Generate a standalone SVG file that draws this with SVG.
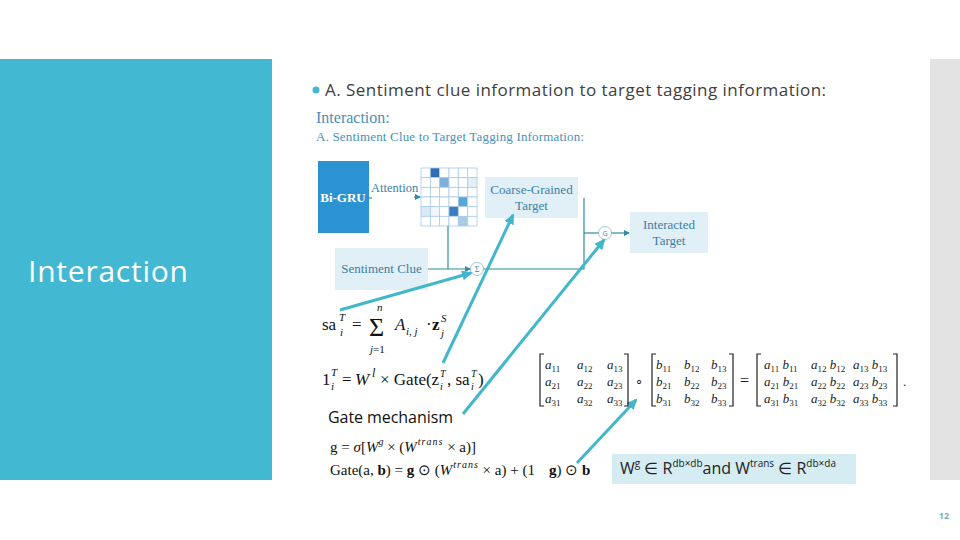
<svg xmlns="http://www.w3.org/2000/svg" width="960" height="540" viewBox="0 0 960 540">
<style>
.sans{font-family:"Open Sans","Liberation Sans",sans-serif}
.serif{font-family:"Liberation Serif","DejaVu Serif",serif}
.lbl{font-family:"Liberation Serif",serif;font-size:13px;fill:#3d7ea6;text-anchor:middle}
.box{fill:#e1eff7}
.wire{stroke:#2f8ca6;stroke-width:1.2;fill:none}
.hint{stroke:#42b6ca;stroke-width:3;fill:none}
.op{fill:#fff;stroke:#8fb9cc;stroke-width:0.8}
.m{font-family:"Liberation Serif",serif;font-size:13px;fill:#222}
.f{font-family:"Liberation Serif",serif;fill:#111}
.it{font-style:italic}
.cell{fill:#fff;stroke:#a9cbe6;stroke-width:0.8}
</style>
<defs>
<marker id="ah" markerWidth="6" markerHeight="6" refX="5" refY="3" orient="auto" markerUnits="userSpaceOnUse"><path d="M0,0 L6,3 L0,6 z" fill="#2f8ca6"/></marker>
<marker id="bh" markerWidth="12" markerHeight="12" refX="9" refY="5" orient="auto" markerUnits="userSpaceOnUse"><path d="M0,0 L11,5 L0,10 z" fill="#42b6ca"/></marker>
</defs>
<rect width="960" height="540" fill="#fff"/>
<rect x="0" y="59" width="272" height="421" fill="#42b8d2"/>
<rect x="930" y="59" width="30" height="421" fill="#e3e3e3"/>
<text x="28" y="282" class="sans" font-size="30" fill="#fff" textLength="160">Interaction</text>
<circle cx="316" cy="90" r="3.5" fill="#42b8d2"/>
<text x="325" y="96" class="sans" font-size="17" fill="#404040" textLength="501">A. Sentiment clue information to target tagging information:</text>
<text x="316" y="123" class="serif" font-size="16" fill="#4a8fb9">Interaction:</text>
<text x="316" y="141" class="serif" font-size="13" fill="#4a8fb9" textLength="268">A. Sentiment Clue to Target Tagging Information:</text>

<g id="bigru">
<rect x="318" y="161" width="51" height="72" fill="#2b93d1"/>
<text x="343" y="202" class="serif" font-size="13" font-weight="bold" fill="#fff" text-anchor="middle">Bi-GRU</text>
</g>
<g id="attention">
<text x="371" y="192" class="serif" font-size="12.5" fill="#3d7ea6">Attention</text>
<g>
<rect class="cell" x="421" y="168" width="9.33" height="9.67"/><rect class="cell" x="430.33" y="168" width="9.33" height="9.67" style="fill:#2e6db5"/><rect class="cell" x="439.67" y="168" width="9.33" height="9.67"/><rect class="cell" x="449" y="168" width="9.33" height="9.67"/><rect class="cell" x="458.33" y="168" width="9.33" height="9.67"/><rect class="cell" x="467.67" y="168" width="9.33" height="9.67"/>
<rect class="cell" x="421" y="177.67" width="9.33" height="9.67"/><rect class="cell" x="430.33" y="177.67" width="9.33" height="9.67"/><rect class="cell" x="439.67" y="177.67" width="9.33" height="9.67" style="fill:#7fb0dc"/><rect class="cell" x="449" y="177.67" width="9.33" height="9.67"/><rect class="cell" x="458.33" y="177.67" width="9.33" height="9.67"/><rect class="cell" x="467.67" y="177.67" width="9.33" height="9.67" style="fill:#e2eff8"/>
<rect class="cell" x="421" y="187.33" width="9.33" height="9.67"/><rect class="cell" x="430.33" y="187.33" width="9.33" height="9.67"/><rect class="cell" x="439.67" y="187.33" width="9.33" height="9.67"/><rect class="cell" x="449" y="187.33" width="9.33" height="9.67"/><rect class="cell" x="458.33" y="187.33" width="9.33" height="9.67"/><rect class="cell" x="467.67" y="187.33" width="9.33" height="9.67"/>
<rect class="cell" x="421" y="197" width="9.33" height="9.67"/><rect class="cell" x="430.33" y="197" width="9.33" height="9.67"/><rect class="cell" x="439.67" y="197" width="9.33" height="9.67"/><rect class="cell" x="449" y="197" width="9.33" height="9.67"/><rect class="cell" x="458.33" y="197" width="9.33" height="9.67" style="fill:#5aa5d8"/><rect class="cell" x="467.67" y="197" width="9.33" height="9.67"/>
<rect class="cell" x="421" y="206.67" width="9.33" height="9.67" style="fill:#dceaf5"/><rect class="cell" x="430.33" y="206.67" width="9.33" height="9.67" style="fill:#f0f6fb"/><rect class="cell" x="439.67" y="206.67" width="9.33" height="9.67"/><rect class="cell" x="449" y="206.67" width="9.33" height="9.67" style="fill:#3a7cc0"/><rect class="cell" x="458.33" y="206.67" width="9.33" height="9.67"/><rect class="cell" x="467.67" y="206.67" width="9.33" height="9.67"/>
<rect class="cell" x="421" y="216.33" width="9.33" height="9.67"/><rect class="cell" x="430.33" y="216.33" width="9.33" height="9.67"/><rect class="cell" x="439.67" y="216.33" width="9.33" height="9.67"/><rect class="cell" x="449" y="216.33" width="9.33" height="9.67"/><rect class="cell" x="458.33" y="216.33" width="9.33" height="9.67" style="fill:#a8cbe8"/><rect class="cell" x="467.67" y="216.33" width="9.33" height="9.67"/>
</g>
</g>
<g id="coarse">
<rect class="box" x="485" y="177" width="93" height="41"/>
<text class="lbl" x="531.5" y="194">Coarse-Grained</text>
<text class="lbl" x="531.5" y="210">Target</text>
</g>
<g id="interacted">
<rect class="box" x="630" y="212" width="78" height="41"/>
<text class="lbl" x="669" y="229">Interacted</text>
<text class="lbl" x="669" y="245">Target</text>
</g>
<g id="sentiment">
<rect class="box" x="335" y="248" width="93" height="42"/>
<text class="lbl" x="381.5" y="273">Sentiment Clue</text>
</g>
<g id="sum">
<circle class="op" cx="477" cy="269" r="6.5"/>
<text x="477" y="272" class="serif" font-size="8" fill="#3d7ea6" text-anchor="middle">Σ</text>
</g>
<g id="gate">
<circle class="op" cx="605" cy="233" r="6.5"/>
<text x="605" y="236" class="sans" font-size="7" fill="#3d7ea6" text-anchor="middle">G</text>
</g>

<g id="connectors">
<line class="wire" x1="369" y1="198" x2="372" y2="198"/>
<line class="wire" x1="414" y1="197" x2="420" y2="197" marker-end="url(#ah)"/>
<line class="wire" x1="428" y1="269" x2="470" y2="269" marker-end="url(#ah)"/>
<polyline class="wire" points="448,226 448,269"/>
<polyline class="wire" points="483.5,269 584,269 584,198"/>
<line class="wire" x1="584" y1="233" x2="598.5" y2="233"/>
<line class="wire" x1="611.5" y1="233" x2="629" y2="233" marker-end="url(#ah)"/>
<line class="hint" x1="340" y1="310" x2="471" y2="273" marker-end="url(#bh)"/>
<line class="hint" x1="443" y1="363" x2="513" y2="215" marker-end="url(#bh)"/>
<line class="hint" x1="463" y1="414" x2="604" y2="240" marker-end="url(#bh)"/>
<line class="hint" x1="577" y1="463" x2="636" y2="400" marker-end="url(#bh)"/>
</g>

<g id="formula-sa" class="f">
<text x="322" y="330" font-size="17">sa</text>
<text x="339" y="321" font-size="11" class="it">T</text>
<text x="340" y="336" font-size="11" class="it">i</text>
<text x="352" y="330" font-size="17">=</text>
<text x="369" y="336" font-size="26">Σ</text>
<text x="377" y="311" font-size="11" class="it">n</text>
<text x="370" y="353" font-size="11"><tspan class="it">j</tspan>=1</text>
<text x="395" y="330" font-size="17" class="it">A</text>
<text x="406" y="335" font-size="11" class="it">i, j</text>
<text x="426" y="330" font-size="17">·</text>
<text x="432" y="330" font-size="17" font-weight="bold">z</text>
<text x="441" y="322" font-size="11" class="it">S</text>
<text x="441" y="337" font-size="11" class="it">j</text>
</g>
<g id="formula-l" class="f">
<text x="322" y="385" font-size="17">1</text>
<text x="331" y="376" font-size="11" class="it">T</text>
<text x="331" y="390" font-size="11" class="it">i</text>
<text x="342" y="385" font-size="17">=</text>
<text x="355" y="385" font-size="17" class="it">W</text>
<text x="372" y="377" font-size="12" class="it">l</text>
<text x="380" y="385" font-size="17">× Gate(z</text>
<text x="440" y="377" font-size="10" class="it">T</text>
<text x="440" y="390" font-size="10" class="it">i</text>
<text x="447" y="385" font-size="17">, sa</text>
<text x="471" y="377" font-size="10" class="it">T</text>
<text x="471" y="390" font-size="10" class="it">i</text>
<text x="478" y="385" font-size="17">)</text>
</g>

<text x="328" y="423" class="sans" font-size="16" fill="#111" textLength="125">Gate mechanism</text>
<text x="330" y="452" class="f" font-size="15">g = <tspan class="it">σ</tspan>[<tspan class="it">W</tspan><tspan class="it" font-size="10" dy="-7">g</tspan><tspan dy="7"> × (</tspan><tspan class="it">W</tspan><tspan class="it" font-size="10" dy="-7" dx="1" letter-spacing="1">trans</tspan><tspan dy="7"> × a)]</tspan></text>
<text x="330" y="475" class="f" font-size="15">Gate(a, <tspan font-weight="bold">b</tspan>) = <tspan font-weight="bold">g</tspan> ⊙ (<tspan class="it">W</tspan><tspan class="it" font-size="10" dy="-7" dx="1" letter-spacing="1">trans</tspan><tspan dy="7"> × a) + (1</tspan><tspan font-weight="bold" dx="14">g</tspan>) ⊙ <tspan font-weight="bold">b</tspan></text>

<g id="matrix-eq">
<path d="M544,354 H540 V406 H544 M624,354 H628 V406 H624 M656,354 H652 V406 H656 M729,354 H733 V406 H729 M761,354 H757 V406 H761 M893,354 H897 V406 H893" stroke="#222" stroke-width="1.2" fill="none"/>
<g class="m">
<text x="545" y="369"><tspan class="it">a</tspan><tspan font-size="9" dy="3">11</tspan></text>
<text x="577" y="369"><tspan class="it">a</tspan><tspan font-size="9" dy="3">12</tspan></text>
<text x="607" y="369"><tspan class="it">a</tspan><tspan font-size="9" dy="3">13</tspan></text>
<text x="545" y="386"><tspan class="it">a</tspan><tspan font-size="9" dy="3">21</tspan></text>
<text x="577" y="386"><tspan class="it">a</tspan><tspan font-size="9" dy="3">22</tspan></text>
<text x="607" y="386"><tspan class="it">a</tspan><tspan font-size="9" dy="3">23</tspan></text>
<text x="545" y="403"><tspan class="it">a</tspan><tspan font-size="9" dy="3">31</tspan></text>
<text x="577" y="403"><tspan class="it">a</tspan><tspan font-size="9" dy="3">32</tspan></text>
<text x="607" y="403"><tspan class="it">a</tspan><tspan font-size="9" dy="3">33</tspan></text>
<text x="635" y="385">∘</text>
<text x="656" y="369"><tspan class="it">b</tspan><tspan font-size="9" dy="3">11</tspan></text>
<text x="684" y="369"><tspan class="it">b</tspan><tspan font-size="9" dy="3">12</tspan></text>
<text x="711" y="369"><tspan class="it">b</tspan><tspan font-size="9" dy="3">13</tspan></text>
<text x="656" y="386"><tspan class="it">b</tspan><tspan font-size="9" dy="3">21</tspan></text>
<text x="684" y="386"><tspan class="it">b</tspan><tspan font-size="9" dy="3">22</tspan></text>
<text x="711" y="386"><tspan class="it">b</tspan><tspan font-size="9" dy="3">23</tspan></text>
<text x="656" y="403"><tspan class="it">b</tspan><tspan font-size="9" dy="3">31</tspan></text>
<text x="684" y="403"><tspan class="it">b</tspan><tspan font-size="9" dy="3">32</tspan></text>
<text x="711" y="403"><tspan class="it">b</tspan><tspan font-size="9" dy="3">33</tspan></text>
<text x="740" y="386" font-size="16">=</text>
<text x="764" y="369"><tspan class="it">a</tspan><tspan font-size="9" dy="3">11</tspan><tspan dy="-3"> </tspan><tspan class="it">b</tspan><tspan font-size="9" dy="3">11</tspan></text>
<text x="811" y="369"><tspan class="it">a</tspan><tspan font-size="9" dy="3">12</tspan><tspan dy="-3"> </tspan><tspan class="it">b</tspan><tspan font-size="9" dy="3">12</tspan></text>
<text x="853" y="369"><tspan class="it">a</tspan><tspan font-size="9" dy="3">13</tspan><tspan dy="-3"> </tspan><tspan class="it">b</tspan><tspan font-size="9" dy="3">13</tspan></text>
<text x="764" y="386"><tspan class="it">a</tspan><tspan font-size="9" dy="3">21</tspan><tspan dy="-3"> </tspan><tspan class="it">b</tspan><tspan font-size="9" dy="3">21</tspan></text>
<text x="811" y="386"><tspan class="it">a</tspan><tspan font-size="9" dy="3">22</tspan><tspan dy="-3"> </tspan><tspan class="it">b</tspan><tspan font-size="9" dy="3">22</tspan></text>
<text x="853" y="386"><tspan class="it">a</tspan><tspan font-size="9" dy="3">23</tspan><tspan dy="-3"> </tspan><tspan class="it">b</tspan><tspan font-size="9" dy="3">23</tspan></text>
<text x="764" y="403"><tspan class="it">a</tspan><tspan font-size="9" dy="3">31</tspan><tspan dy="-3"> </tspan><tspan class="it">b</tspan><tspan font-size="9" dy="3">31</tspan></text>
<text x="811" y="403"><tspan class="it">a</tspan><tspan font-size="9" dy="3">32</tspan><tspan dy="-3"> </tspan><tspan class="it">b</tspan><tspan font-size="9" dy="3">32</tspan></text>
<text x="853" y="403"><tspan class="it">a</tspan><tspan font-size="9" dy="3">33</tspan><tspan dy="-3"> </tspan><tspan class="it">b</tspan><tspan font-size="9" dy="3">33</tspan></text>
<text x="903" y="386">.</text>
</g>
</g>

<g id="dims">
<rect x="612" y="454" width="244" height="30" fill="#d5ecf3"/>
<text x="620" y="474" class="sans" font-size="16" fill="#222">W<tspan font-size="10" dy="-7">g</tspan><tspan dy="7"> ∈ R</tspan><tspan font-size="10" dy="-7">db×db</tspan><tspan dy="7">and W</tspan><tspan font-size="10" dy="-7">trans</tspan><tspan dy="7"> ∈ R</tspan><tspan font-size="10" dy="-7">db×da</tspan></text>
</g>
<text x="944" y="519" class="sans" font-size="9" font-weight="bold" fill="#7ab0c0" text-anchor="middle">12</text>
</svg>
